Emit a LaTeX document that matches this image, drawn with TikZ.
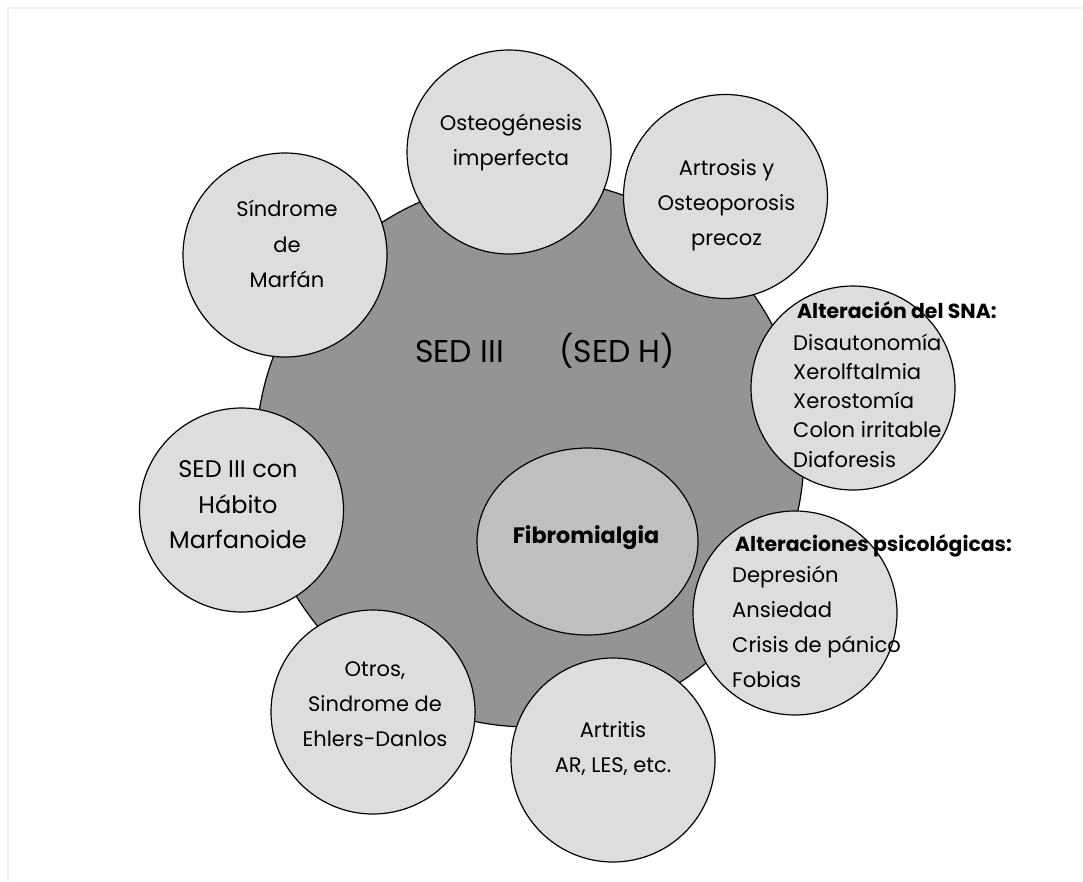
\documentclass[tikz,border=0pt]{standalone}
\usepackage{fontspec}
\setmainfont{Poppins}
\usetikzlibrary{shapes.geometric}
\definecolor{bigc}{RGB}{147,148,150}
\definecolor{lightc}{RGB}{221,221,221}
\definecolor{fibc}{RGB}{190,191,191}
\definecolor{framec}{RGB}{238,238,238}
\newcommand{\fsmall}{\fontsize{21}{25}\selectfont}
\newcommand{\ffib}{\fontsize{22.3}{26}\selectfont\bfseries}
\newcommand{\fmid}{\fontsize{24}{28}\selectfont}
\newcommand{\fbig}{\fontsize{31.5}{38}\selectfont}
\newcommand{\fhead}{\fontsize{20.4}{24}\selectfont\bfseries}
\newcommand{\flist}{\fontsize{21.1}{25}\selectfont}
\begin{document}
\begin{tikzpicture}[x=1pt,y=-1pt,
  bigdisc/.style={circle, draw=black, line width=1.2pt, fill=bigc, minimum size=548pt, inner sep=0pt},
  fibdisc/.style={ellipse, draw=black, line width=1.2pt, fill=fibc, minimum width=221pt, minimum height=187pt, inner sep=0pt},
  smalldisc/.style={circle, draw=black, line width=1.2pt, fill=lightc, minimum size=204pt, inner sep=0pt},
  lbl/.style={anchor=base, inner sep=0pt, text=black},
  lbw/.style={anchor=base west, inner sep=0pt, text=black}]
\useasboundingbox (0,0) rectangle (1083,881);
\fill[white] (0,0) rectangle (1083,881);
\draw[framec, line width=2pt] (7.5,881) -- (7.5,7.5) -- (1083,7.5);

% central disc
\node[bigdisc] (sed) at (530,453) {};
\node[fibdisc] (fib) at (587.5,541.5) {};

% satellite discs
\node[smalldisc] (ost) at (509,152) {};
\node[smalldisc] (art) at (725.5,196.5) {};
\node[smalldisc] (mar) at (285,255) {};
\node[smalldisc] (sna) at (853,388) {};
\node[smalldisc] (hab) at (241.5,510) {};
\node[smalldisc] (psi) at (795,613) {};
\node[smalldisc] (otr) at (373,712) {};
\node[smalldisc] (artr) at (613,760) {};

% central texts
\node[lbw, font=\fbig] (sed1) at (415,362) {SED III};
\node[lbw, font=\fbig] (sed2) at (559,362) {(SED H)};
\node[lbl, font=\ffib] (fib1) at (586,543) {Fibromialgia};

% Osteogenesis
\node[lbl, font=\fsmall] (ost1) at (511,130.5) {Osteogénesis};
\node[lbl, font=\fsmall] (ost2) at (511,165) {imperfecta};
% Artrosis
\node[lbl, font=\fsmall] (art1) at (726.5,175) {Artrosis y};
\node[lbl, font=\fsmall] (art2) at (726.5,210) {Osteoporosis};
\node[lbl, font=\fsmall] (art3) at (726.5,245) {precoz};
% Marfan
\node[lbl, font=\fsmall] (mar1) at (287,216) {Síndrome};
\node[lbl, font=\fsmall] (mar2) at (287,252) {de};
\node[lbl, font=\fsmall] (mar3) at (287,287) {Marfán};
% SED III con
\node[lbl, font=\fmid] (hab1) at (238,477) {SED III con};
\node[lbl, font=\fmid] (hab2) at (238,513) {Hábito};
\node[lbl, font=\fmid] (hab3) at (238,548) {Marfanoide};
% Otros
\node[lbl, font=\fsmall] (otr1) at (375,676) {Otros,};
\node[lbl, font=\fsmall] (otr2) at (375,711) {Sindrome de};
\node[lbl, font=\fsmall] (otr3) at (375,746) {Ehlers-Danlos};
% Artritis
\node[lbl, font=\fsmall] (artr1) at (613,737) {Artritis};
\node[lbl, font=\fsmall] (artr2) at (613,772) {AR, LES, etc.};

% SNA
\node[lbw, font=\fhead] (sna0) at (797,318) {Alteración del SNA:};
\node[lbw, font=\flist] (sna1) at (793,350) {Disautonomía};
\node[lbw, font=\flist] (sna2) at (793,379) {Xerolftalmia};
\node[lbw, font=\flist] (sna3) at (793,408) {Xerostomía};
\node[lbw, font=\flist] (sna4) at (793,437) {Colon irritable};
\node[lbw, font=\flist] (sna5) at (793,467) {Diaforesis};

% Psicologicas
\node[lbw, font=\fhead] (psi0) at (735,551) {Alteraciones psicológicas:};
\node[lbw, font=\flist] (psi1) at (732,582) {Depresión};
\node[lbw, font=\flist] (psi2) at (732,617) {Ansiedad};
\node[lbw, font=\flist] (psi3) at (732,652) {Crisis de pánico};
\node[lbw, font=\flist] (psi4) at (732,687) {Fobias};
\end{tikzpicture}
\end{document}
